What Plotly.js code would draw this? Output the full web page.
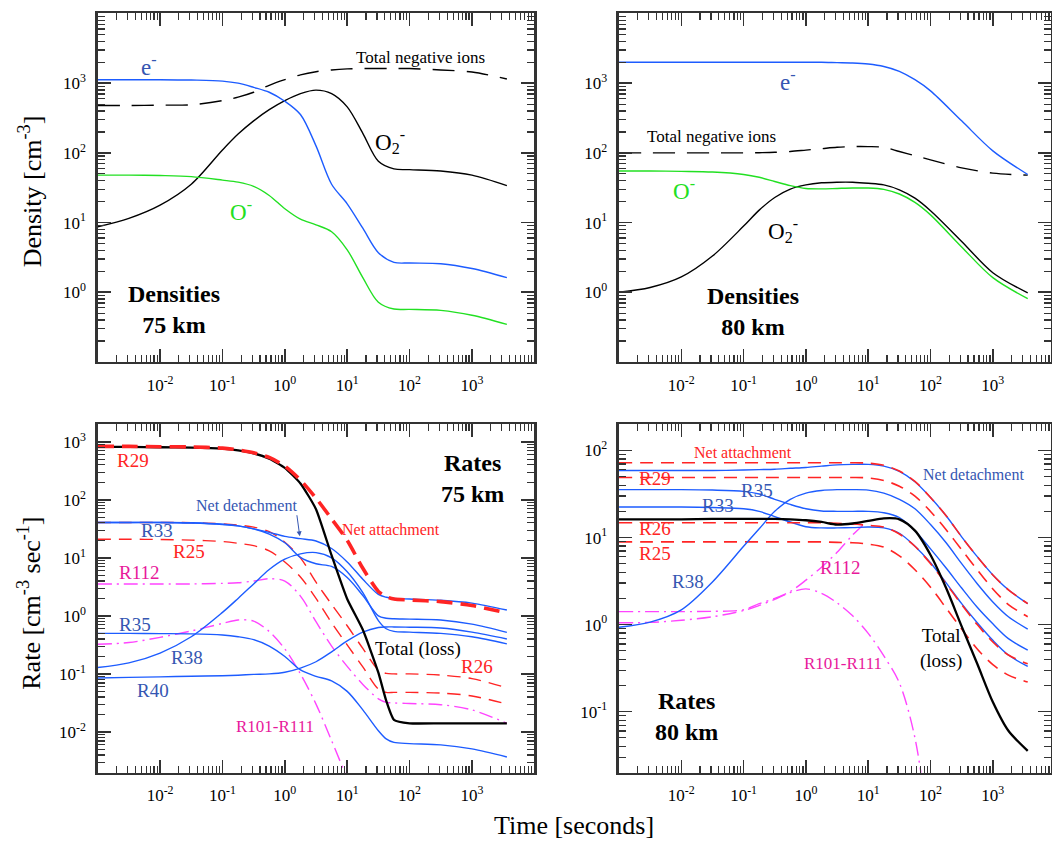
<!DOCTYPE html>
<html><head><meta charset="utf-8">
<script src="https://cdn.plot.ly/plotly-3.0.1.min.js"></script>
<style>html,body{margin:0;padding:0;background:#fff}#plot{width:1052px;height:843px}</style>
</head><body><div id="plot"></div>
<script>
// ---------- time grids (seconds) ----------
const T_TOP = [0.001,0.00316,0.01,0.0316,0.1,0.178,0.316,0.562,1,1.78,3.16,5.62,10,17.8,31.6,56.2,100,316,1000,3630];
const T_BL  = [0.001,0.00316,0.01,0.0316,0.1,0.178,0.316,0.562,1,1.78,3.16,5.62,10,17.8,31.6,42.2,56.2,100,316,1000,3630];
const T_BR  = [0.001,0.00316,0.01,0.0316,0.1,0.178,0.316,0.562,1,1.78,3.16,5.62,10,17.8,31.6,56.2,100,178,316,562,1000,1778,3630];

// ---------- densities 75 km [cm^-3] ----------
const e75   = [1122,1122,1122,1109,1072,1000,871,741,550,355,126,35.5,18.6,8.3,3.7,2.69,2.63,2.57,2.19,1.62];
const O2m75 = [8.7,11.5,17.8,35.5,110,186,288,417,562,708,794,708,457,191,75.9,58.9,57.5,55.0,47.9,33.9];
const Om75  = [47.9,47.9,47.3,45.7,40.7,38.0,33.1,24.5,15.8,11.2,9.3,7.4,4.07,1.62,0.72,0.575,0.569,0.55,0.468,0.347];
const neg75 = [479,479,484,490,562,631,741,933,1122,1318,1462,1549,1603,1622,1622,1622,1622,1549,1445,1148];

// ---------- densities 80 km ----------
const e80   = [1995,1995,1995,1995,1995,1995,1995,1995,1995,1995,1972,1950,1884,1738,1479,1122,776,288,107,49];
const O2m80 = [1.0,1.17,1.66,3.31,8.9,15.1,22.9,30.2,34.7,37.2,38.0,38.0,36.7,34.7,29.5,22.4,14.8,5.37,1.91,0.98];
const Om80  = [55.0,55.0,54.3,53.1,49.0,44.7,38.9,33.9,30.9,30.5,30.9,31.3,31.3,29.9,25.7,19.5,12.9,4.47,1.62,0.81];
const neg80 = [100,100,100,100,100,100.7,101.9,104.7,109.6,114.8,120.2,123,123,120.2,104.7,91.2,79.4,61,51.3,47.9];

// ---------- rates 75 km [cm^-3 s^-1] ----------
const total75  = [813,813,804,794,759,708,631,513,355,191,69,11,1.95,0.575,0.105,0.0347,0.0162,0.0141,0.0141,0.0141,0.0141];
const netAtt75 = [832,832,822,813,776,724,646,537,380,219,107,46.8,20.0,6.6,2.63,2.14,1.95,1.88,1.76,1.51,1.12];
const netDet75 = [40.7,40.7,40.7,40.3,38.0,35.5,31.6,27.5,23.4,21.4,19.5,14.5,8.5,4.27,2.34,2.09,2.0,1.95,1.86,1.66,1.26];
const R33_75   = [40.7,40.7,40.7,39.8,37.6,35.5,31.6,25.7,18.2,10.2,7.9,7.1,4.57,2.24,1.0,0.91,0.89,0.88,0.85,0.72,0.52];
const R38_75   = [0.129,0.155,0.229,0.437,1.15,2.0,3.55,6.3,9.5,11.7,12.3,10.0,5.75,2.51,0.83,0.60,0.54,0.525,0.50,0.437,0.33];
const R40_75   = [0.085,0.087,0.089,0.091,0.093,0.095,0.098,0.1,0.107,0.126,0.162,0.24,0.37,0.525,0.63,0.645,0.645,0.638,0.617,0.525,0.40];
const R35_75   = [0.5,0.5,0.495,0.49,0.468,0.437,0.389,0.302,0.2,0.117,0.091,0.076,0.05,0.024,0.0105,0.0076,0.0066,0.0063,0.006,0.0051,0.0037];
const R26_75   = [40.7,40.7,40.7,40.3,38.5,36.7,33.9,28.2,18.6,10.0,3.8,1.58,0.676,0.275,0.117,0.102,0.1,0.1,0.0955,0.083,0.0575];
const R25_75   = [20.9,20.9,20.7,20.2,19.1,17.8,16.2,13.2,8.5,4.68,2.0,0.76,0.316,0.132,0.055,0.048,0.048,0.048,0.0468,0.0417,0.0302];
const R112_75  = [3.55,3.55,3.55,3.55,3.63,3.72,3.98,4.37,3.98,2.19,0.794,0.302,0.135,0.066,0.0372,0.0324,0.0316,0.0309,0.0295,0.024,0.0141];
const R101_75  = [0.324,0.347,0.427,0.55,0.741,0.851,0.813,0.537,0.269,0.1,0.0302,0.00708,0.00158,null,null,null,null,null,null,null,null];

// ---------- rates 80 km ----------
const netDet80 = [58.9,58.9,58.9,58.9,59.6,60.3,61.0,62.4,63.8,66.1,68.4,69.2,69.2,66.1,57.5,43.7,28.8,17.8,10.2,6.03,3.72,2.51,1.74];
const netAtt80 = [72.4,72.4,72.4,72.4,72.4,72.4,72.4,72.4,72.4,72.4,72.4,72.4,71.6,67.6,58.2,44.2,28.8,17.8,10.2,6.03,3.72,2.51,1.74];
const R29_80   = [49,49,49,49,49,49,49,49,49,49,49,49,48.4,45.2,38.9,29.9,19.95,12.3,7.24,4.27,2.57,1.70,1.23];
const R35_80   = [35.5,35.5,35.5,35.1,33.9,31.6,27.5,24.0,21.4,20.2,20.0,20.0,20.0,19.3,17.0,12.0,7.41,4.47,2.63,1.58,1.02,0.69,0.51];
const R38_80   = [0.933,1.07,1.48,3.09,7.94,12.6,20.0,27.5,32.4,34.7,35.5,35.5,35.1,32.4,27.5,21.4,14.1,8.71,5.01,2.95,1.82,1.23,0.89];
const R33_80   = [22.4,22.4,22.4,22.1,21.4,20.0,17.4,15.1,13.3,12.9,12.9,13.0,13.2,12.9,11.2,7.94,5.13,3.02,1.74,1.05,0.66,0.447,0.331];
const R26_80   = [14.8,14.8,14.8,14.8,14.8,14.8,14.8,14.8,14.8,14.8,14.6,14.3,13.8,13.2,11.0,7.94,5.01,2.95,1.70,1.0,0.631,0.447,0.355];
const R25_80   = [8.91,8.91,8.91,8.91,8.91,8.91,8.91,8.91,8.91,8.91,8.81,8.71,8.41,7.76,6.17,4.27,2.69,1.55,0.891,0.525,0.347,0.263,0.219];
const total80  = [16.2,16.2,16.2,16.4,16.4,16.4,16.4,16.2,15.8,15.1,14.1,14.5,15.5,16.6,16.2,12.0,6.31,2.63,0.955,0.355,0.129,0.0603,0.0355];
const R112_80  = [1.41,1.41,1.41,1.42,1.48,1.74,2.0,2.4,3.24,4.57,6.76,10.7,15.8,null,null,null,null,null,null,null,null,null,null];
const R101_80  = [1.05,1.06,1.12,1.23,1.45,1.66,1.95,2.34,2.57,2.29,1.78,1.26,0.794,0.437,0.214,0.05,0.003,null,null,null,null,null,null];

// ---------- tick labels ----------
const xTickVals = [0.01,0.1,1,10,100,1000];
const xTickText = ['10<sup>-2</sup>','10<sup>-1</sup>','10<sup>0</sup>','10<sup>1</sup>','10<sup>2</sup>','10<sup>3</sup>'];
const yTopVals = [1,10,100,1000];
const yTopText = ['10<sup>0</sup>','10<sup>1</sup>','10<sup>2</sup>','10<sup>3</sup>'];
const yBLVals = [0.01,0.1,1,10,100,1000];
const yBLText = ['10<sup>-2</sup>','10<sup>-1</sup>','10<sup>0</sup>','10<sup>1</sup>','10<sup>2</sup>','10<sup>3</sup>'];
const yBRVals = [0.1,1,10,100];
const yBRText = ['10<sup>-1</sup>','10<sup>0</sup>','10<sup>1</sup>','10<sup>2</sup>'];

// ---------- styling ----------
const FONT = '"Liberation Serif", "Times New Roman", Times, serif';
const BLUE = '#1d5cff', BLUE_T = '#3556b2', RED = '#ff2424', GREEN = '#22e022';
const MAG = '#ff44ff', MAG_T = '#e8199b', BLACK = '#000000';

function minorVals(lo, hi){ const v=[]; for(let e=lo;e<hi;e++) for(let m=2;m<=9;m++) v.push(m*Math.pow(10,e)); return v; }

function axis(domain, anchor, range, tv, tt, minor){
  return {type:'log', domain, anchor, range, showline:true, linecolor:'#333', linewidth:2.5,
    mirror:'allticks', ticks:'inside', ticklen:13, tickwidth:1.6, tickcolor:'#333',
    showgrid:false, zeroline:false, tickmode:'array', tickvals:tv, ticktext:tt,
    ticklabelstandoff:6,
    tickfont:{family:FONT, size:17, color:'#000'},
    minor:{ticks:'inside', ticklen:7, tickwidth:1.2, tickcolor:'#333', tickmode:'array', tickvals:minor, showgrid:false}};
}

function tr(x, y, xa, ya, color, width, dash, smooth){
  return {x, y, xaxis:xa, yaxis:ya, type:'scatter', mode:'lines', hoverinfo:'skip',
    line:{color, width, dash: dash||'solid', shape:'spline', smoothing: smooth===undefined ? 0.9 : smooth}, connectgaps:false};
}
const DASH_K = '22px,12px', DASH_R = '13px,8px', DASH_RT = '16px,8px', DASHDOT = '14px,5px,2px,5px';

const data = [
  // top-left
  tr(T_TOP, neg75, 'x','y', BLACK, 1.4, DASH_K),
  tr(T_TOP, O2m75, 'x','y', BLACK, 1.4),
  tr(T_TOP, Om75,  'x','y', GREEN, 1.4),
  tr(T_TOP, e75,   'x','y', BLUE, 1.4),
  // top-right
  tr(T_TOP, neg80, 'x2','y2', BLACK, 1.4, DASH_K),
  tr(T_TOP, O2m80, 'x2','y2', BLACK, 1.4),
  tr(T_TOP, Om80,  'x2','y2', GREEN, 1.4),
  tr(T_TOP, e80,   'x2','y2', BLUE, 1.4),
  // bottom-left
  tr(T_BL, R26_75,  'x3','y3', RED, 1.4, DASH_R),
  tr(T_BL, R25_75,  'x3','y3', RED, 1.4, DASH_R),
  tr(T_BL, R112_75, 'x3','y3', MAG, 1.4, DASHDOT),
  tr(T_BL, R101_75, 'x3','y3', MAG, 1.4, DASHDOT),
  tr(T_BL, R35_75,  'x3','y3', BLUE, 1.4),
  tr(T_BL, R40_75,  'x3','y3', BLUE, 1.4),
  tr(T_BL, R38_75,  'x3','y3', BLUE, 1.4),
  tr(T_BL, R33_75,  'x3','y3', BLUE, 1.4),
  tr(T_BL, netDet75,'x3','y3', BLUE, 1.4),
  tr(T_BL, total75, 'x3','y3', BLACK, 2.3, 'solid', 0.5),
  tr(T_BL, netAtt75,'x3','y3', RED, 3.6, DASH_RT, 0.7),
  // bottom-right
  tr(T_BR, R112_80, 'x4','y4', MAG, 1.4, DASHDOT),
  tr(T_BR, R101_80, 'x4','y4', MAG, 1.4, DASHDOT),
  tr(T_BR, R25_80,  'x4','y4', RED, 1.6, DASH_R),
  tr(T_BR, R29_80,  'x4','y4', RED, 1.6, DASH_R),
  tr(T_BR, R38_80,  'x4','y4', BLUE, 1.4),
  tr(T_BR, R35_80,  'x4','y4', BLUE, 1.4),
  tr(T_BR, R33_80,  'x4','y4', BLUE, 1.4),
  tr(T_BR, netDet80,'x4','y4', BLUE, 1.4),
  tr(T_BR, R26_80,  'x4','y4', RED, 1.6, DASH_R),
  tr(T_BR, netAtt80,'x4','y4', RED, 1.6, DASH_R),
  tr(T_BR, total80, 'x4','y4', BLACK, 2.3, 'solid', 0.8)
];

function lab(text, p, x, y, color, size){
  const xr = p===1 ? 'x' : 'x'+p, yr = p===1 ? 'y' : 'y'+p;
  return {text, xref:xr, yref:yr, x, y, showarrow:false, xanchor:'center', yanchor:'middle',
          font:{family:FONT, size, color}};
}
function ptitle(text, x, y, angle){
  return {text, xref:'paper', yref:'paper', x, y, showarrow:false, xanchor:'center', yanchor:'middle',
          textangle:angle||0, font:{family:FONT, size:26, color:'#000'}};
}

const annotations = [
  // top-left
  lab('e<sup>-</sup>', 1, -2.18, 3.25, BLUE_T, 23),
  lab('Total negative ions', 1, 2.17, 3.37, BLACK, 17),
  lab('O<sub>2</sub><sup>-</sup>', 1, 1.68, 2.16, BLACK, 23),
  lab('O<sup>-</sup>', 1, -0.71, 1.17, GREEN, 23),
  lab('<b>Densities</b><br><b>75 km</b>', 1, -1.77, -0.245, BLACK, 24),
  // top-right
  lab('e<sup>-</sup>', 2, -0.29, 3.04, BLUE_T, 23),
  lab('Total negative ions', 2, -1.52, 2.23, BLACK, 17),
  lab('O<sup>-</sup>', 2, -1.96, 1.47, GREEN, 23),
  lab('O<sub>2</sub><sup>-</sup>', 2, -0.37, 0.88, BLACK, 23),
  lab('<b>Densities</b><br><b>80 km</b>', 2, -0.85, -0.28, BLACK, 24),
  // bottom-left
  lab('R29', 3, -2.43, 2.67, RED, 19),
  lab('<b>Rates</b><br><b>75 km</b>', 3, 3.01, 2.37, BLACK, 24),
  lab('Net detachment', 3, -0.62, 1.90, BLUE_T, 16),
  lab('Net attachment', 3, 1.70, 1.48, RED, 16),
  lab('R33', 3, -2.05, 1.47, BLUE_T, 19),
  lab('R25', 3, -1.54, 1.11, RED, 19),
  lab('R112', 3, -2.34, 0.75, MAG_T, 19),
  lab('R35', 3, -2.41, -0.14, BLUE_T, 19),
  lab('R38', 3, -1.57, -0.72, BLUE_T, 19),
  lab('R40', 3, -2.12, -1.29, BLUE_T, 19),
  lab('Total (loss)', 3, 2.14, -0.57, BLACK, 19),
  lab('R26', 3, 3.08, -0.87, RED, 19),
  lab('R101-R111', 3, -0.15, -1.90, MAG_T, 17),
  {text:'', xref:'x3', yref:'y3', axref:'x3', ayref:'y3', x:0.24, y:1.37, ax:0.19, ay:1.76,
   showarrow:true, arrowhead:2, arrowsize:1, arrowwidth:1, arrowcolor:BLUE_T},
  // bottom-right
  lab('Net attachment', 4, -1.01, 1.98, RED, 16),
  lab('R29', 4, -2.43, 1.68, RED, 19),
  lab('Net detachment', 4, 2.69, 1.72, BLUE_T, 16),
  lab('R35', 4, -0.78, 1.54, BLUE_T, 19),
  lab('R33', 4, -1.41, 1.37, BLUE_T, 19),
  lab('R26', 4, -2.43, 1.10, RED, 19),
  lab('R25', 4, -2.43, 0.82, RED, 19),
  lab('R38', 4, -1.90, 0.50, BLUE_T, 19),
  lab('R112', 4, 0.55, 0.66, MAG_T, 19),
  lab('Total<br>(loss)', 4, 2.17, -0.28, BLACK, 19),
  lab('R101-R111', 4, 0.59, -0.45, MAG_T, 17),
  lab('<b>Rates</b><br><b>80 km</b>', 4, -1.91, -1.05, BLACK, 24),
  // axis titles
  ptitle('Density [cm<sup>-3</sup>]', 0.0285, 0.773, -90),
  ptitle('Rate [cm<sup>-3</sup> sec<sup>-1</sup>]', 0.0285, 0.285, -90),
  ptitle('Time [seconds]', 0.5456, 0.021, 0)
];

const XL = [0.0929, 0.5079], XR = [0.5884, 0.9986];
const YT = [0.5706, 0.984], YB = [0.0836, 0.4967];
const xMinor = minorVals(-3, 4);

const layout = {
  width:1052, height:843, margin:{l:0, r:0, t:0, b:0},
  paper_bgcolor:'#fff', plot_bgcolor:'#fff', showlegend:false,
  font:{family:FONT, color:'#000'},
  xaxis:  axis(XL, 'y',  [-3, 4],     xTickVals, xTickText, xMinor),
  yaxis:  axis(YT, 'x',  [-1, 4],     yTopVals, yTopText, minorVals(-1, 4)),
  xaxis2: axis(XR, 'y2', [-3, 3.926], xTickVals, xTickText, xMinor),
  yaxis2: axis(YT, 'x2', [-1, 4],     yTopVals, yTopText, minorVals(-1, 4)),
  xaxis3: axis(XL, 'y3', [-3, 4],     xTickVals, xTickText, xMinor),
  yaxis3: axis(YB, 'x3', [Math.log10(0.002), Math.log10(2000)], yBLVals, yBLText, minorVals(-3, 4)),
  xaxis4: axis(XR, 'y4', [-3, 3.926], xTickVals, xTickText, xMinor),
  yaxis4: axis(YB, 'x4', [Math.log10(0.02), Math.log10(200)], yBRVals, yBRText, minorVals(-2, 3)),
  annotations
};

Plotly.newPlot('plot', data, layout, {displayModeBar:false, staticPlot:true});
</script>
</body></html>
